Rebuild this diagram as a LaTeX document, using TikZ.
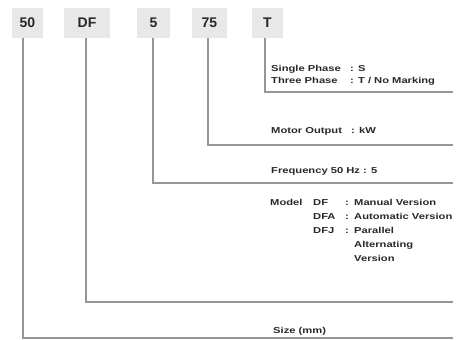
\documentclass[tikz,border=0pt]{standalone}
\usepackage{fontspec}
\setmainfont{Liberation Sans}
\newfontfamily\labfont[FakeStretch=1.3]{Liberation Sans}
\definecolor{boxgray}{RGB}{232,232,232}
\definecolor{linegray}{RGB}{150,150,150}
\definecolor{labtext}{RGB}{40,40,40}
\begin{document}
\begin{tikzpicture}[x=1pt,y=-1pt,
  codebox/.style={fill=boxgray, minimum height=30pt, inner sep=0pt,
    font=\fontsize{14}{14}\selectfont\bfseries, text=labtext},
  conn/.style={draw=linegray, line width=1.6pt},
  lab/.style={anchor=base west, inner sep=0pt,
    font=\labfont\fontsize{8.6}{10}\selectfont\bfseries, text=labtext}]
\useasboundingbox (0,0) rectangle (456,340);
% code boxes
\node[codebox, minimum width=31pt] (b50) at (27.5,23) {50};
\node[codebox, minimum width=46pt] (bDF) at (87,23) {DF};
\node[codebox, minimum width=33pt] (b5) at (153.5,23) {5};
\node[codebox, minimum width=35pt] (b75) at (209.5,23) {75};
\node[codebox, minimum width=31pt] (bT) at (267.5,23) {T};
% line ends
\coordinate (eT) at (453,92);
\coordinate (e75) at (453,145);
\coordinate (e5) at (453,183);
\coordinate (eDF) at (453,302);
\coordinate (e50) at (453,338);
% connectors
\draw[conn] ([xshift=-2.5pt]bT.south) |- (eT);
\draw[conn] ([xshift=-1.5pt]b75.south) |- (e75);
\draw[conn] ([xshift=-0.5pt]b5.south) |- (e5);
\draw[conn] ([xshift=-1pt]bDF.south) |- (eDF);
\draw[conn] ([xshift=-4.5pt]b50.south) |- (e50);
% phase
\node[lab] (ph1) at (271,71) {Single Phase};
\node[lab] (ph1v) at (350,71) {: S};
\node[lab] (ph2) at (271,83) {Three Phase};
\node[lab] (ph2v) at (350,83) {: T / No Marking};
% motor output
\node[lab] (mo) at (271,133) {Motor Output};
\node[lab] (mov) at (351,133) {: kW};
% frequency
\node[lab] (fr) at (271,173) {Frequency 50 Hz : 5};
% model
\node[lab] (md) at (270,205) {Model};
\node[lab] (m1) at (313,205) {DF};
\node[lab] (m1c) at (345,205) {:};
\node[lab] (m1v) at (354,205) {Manual Version};
\node[lab] (m2) at (313,219) {DFA};
\node[lab] (m2c) at (345,219) {:};
\node[lab] (m2v) at (354,219) {Automatic Version};
\node[lab] (m3) at (313,233) {DFJ};
\node[lab] (m3c) at (345,233) {:};
\node[lab] (m3v) at (354,233) {Parallel};
\node[lab] (m3w) at (354,247) {Alternating};
\node[lab] (m3x) at (354,261) {Version};
% size
\node[lab] (sz) at (273,333) {Size (mm)};
\end{tikzpicture}
\end{document}
